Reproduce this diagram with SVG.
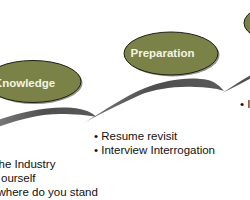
<svg xmlns="http://www.w3.org/2000/svg" width="250" height="200" viewBox="0 0 250 200">
  <defs>
    <linearGradient id="swoosh" x1="0" y1="0" x2="1" y2="0">
      <stop offset="0" stop-color="#7a7a7a"/>
      <stop offset="0.5" stop-color="#4e4e4e"/>
      <stop offset="1" stop-color="#5a5a5a"/>
    </linearGradient>
  </defs>
  <style>
    .shadow { fill: #3a3a2a; opacity: 0.55; }
    .node { fill: #7b8248; stroke: #1e1e14; stroke-width: 1; }
    .label { font-family: "Liberation Sans", Arial, sans-serif; font-size: 11.5px; font-weight: bold; fill: #f4f4e4; text-anchor: middle; }
    .list { font-family: "Liberation Sans", Arial, sans-serif; font-size: 11.5px; fill: #111; }
    .band { fill: url(#swoosh); }
  </style>
  <rect width="250" height="200" fill="#ffffff"/>

  <g id="connectors">
    <path class="band" d="M -5,121 C 20,112 55,104 80,109 C 88,111 93,113 96,117 C 88,115 75,114 60,114 C 40,114 20,119 -5,128 Z"/>
    <path class="band" d="M 84,123 C 105,110 125,96 145,88 C 165,80 190,76 208,80 C 215,82 220,86 224,91 C 215,88 205,87 195,87 C 175,86 155,89 140,95 C 120,104 100,114 84,123 Z"/>
    <path class="band" d="M 222,93 C 235,85 245,78 260,70 L 262,72 C 248,80 235,87 222,93 Z"/>
  </g>

  <g id="knowledge">
    <ellipse class="shadow" cx="34.5" cy="83" rx="48" ry="21"/>
    <ellipse class="node" cx="33" cy="81.5" rx="48" ry="21"/>
    <text class="label" x="24.5" y="87">Knowledge</text>
  </g>

  <g id="preparation">
    <ellipse class="shadow" cx="172.5" cy="55" rx="47" ry="21.5"/>
    <ellipse class="node" cx="171" cy="53.5" rx="47" ry="21.5"/>
    <text class="label" x="162.5" y="57">Preparation</text>
  </g>

  <g id="third">
    <ellipse class="shadow" cx="293.5" cy="24.5" rx="48" ry="21"/>
    <ellipse class="node" cx="292" cy="23" rx="48" ry="21"/>
  </g>

  <g id="knowledge-list">
    <text class="list" x="-1.5" y="168">he Industry</text>
    <text class="list" x="1" y="182">ourself</text>
    <text class="list" x="-2.5" y="196">where do you stand</text>
  </g>

  <g id="preparation-list">
    <text class="list" x="94" y="140">• Resume revisit</text>
    <text class="list" x="94" y="154">• Interview Interrogation</text>
  </g>

  <g id="third-list">
    <text class="list" x="240" y="107.5">• I</text>
  </g>
</svg>
